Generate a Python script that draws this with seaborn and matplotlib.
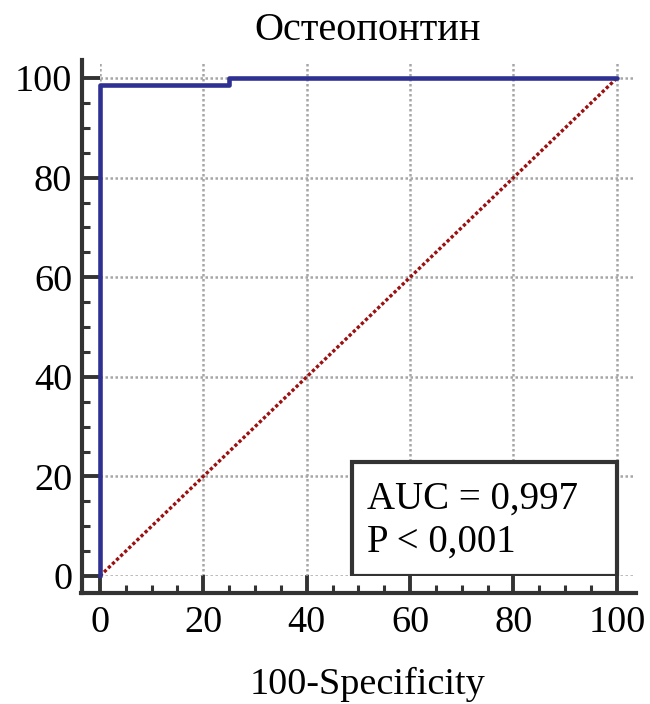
import matplotlib
matplotlib.use("Agg")
import matplotlib.pyplot as plt
import seaborn as sns
import pandas as pd
from matplotlib.patches import Rectangle
from matplotlib.ticker import MultipleLocator

# Data
fpr = [0, 0, 25, 25, 100]          # 100-Specificity
tpr = [0, 98.6, 98.6, 100, 100]    # Sensitivity
ref_x = [0, 100]
ref_y = [0, 100]
title = "Остеопонтин"
xlabel = "100-Specificity"
auc_text = "AUC = 0,997"
p_text = "P < 0,001"
ticks = [0, 20, 40, 60, 80, 100]

sns.set_theme(style="white")
plt.rcParams['font.family'] = ['Liberation Serif', 'DejaVu Serif']
plt.rcParams.update({"text.color": "black", "axes.labelcolor": "black",
                     "xtick.color": "black", "ytick.color": "black"})

FS = 27.5

fig = plt.figure(figsize=(6.5, 7.04), dpi=100)
ax = fig.add_axes([0.1538, 0.1818, 0.823, 0.732])

roc = pd.DataFrame({"x": fpr, "y": tpr})
diag = pd.DataFrame({"x": ref_x, "y": ref_y})

ax.grid(True, color="#a6a6a6", linestyle=(0, (1, 1)), linewidth=1.8)
ax.set_axisbelow(True)

sns.lineplot(data=diag, x="x", y="y", ax=ax, estimator=None, sort=False,
             color="#9b1010", linestyle=(0, (1, 0.7)), linewidth=2.4, zorder=3)
sns.lineplot(data=roc, x="x", y="y", ax=ax, estimator=None, sort=False,
             color="#2e3192", linewidth=3.3, zorder=4, clip_on=False)

ax.set_xlim(0, 103.5)
ax.set_ylim(0, 103.5)
ax.set_xticks(ticks)
ax.set_yticks(ticks)
ax.xaxis.set_minor_locator(MultipleLocator(5))
ax.yaxis.set_minor_locator(MultipleLocator(5))

for s in ["top", "right"]:
    ax.spines[s].set_visible(False)
ax.spines["left"].set_position(("outward", 13))
ax.spines["bottom"].set_position(("outward", 12.5))
for s in ["left", "bottom"]:
    ax.spines[s].set_linewidth(3)
    ax.spines[s].set_color("#333333")
ax.spines["left"].set_bounds(-3.5, 103.6)
ax.spines["bottom"].set_bounds(-3.6, 103.7)

ax.tick_params(axis="both", which="major", direction="in", length=12.8, width=2.8,
               color="#333333", labelcolor="black", labelsize=FS, pad=7,
               left=True, bottom=True)
ax.tick_params(axis="both", which="minor", direction="in", length=5.5, width=2.2,
               color="#333333", left=True, bottom=True)
ax.tick_params(axis="x", which="major", pad=9)

ax.set_xlabel(xlabel, fontsize=FS, labelpad=19, color="black")
ax.set_ylabel("")
ax.set_title(title, fontsize=29, pad=15, color="black")

ax.add_patch(Rectangle((48.7, 0), 51.3, 22.9, facecolor="white",
                       edgecolor="#333333", linewidth=3, zorder=5))
ax.text(51.6, 13.6, auc_text, fontsize=28, zorder=6, va="baseline", color="black")
ax.text(51.6, 4.8, p_text, fontsize=28, zorder=6, va="baseline", color="black")

fig.savefig("out.png", dpi=100)
